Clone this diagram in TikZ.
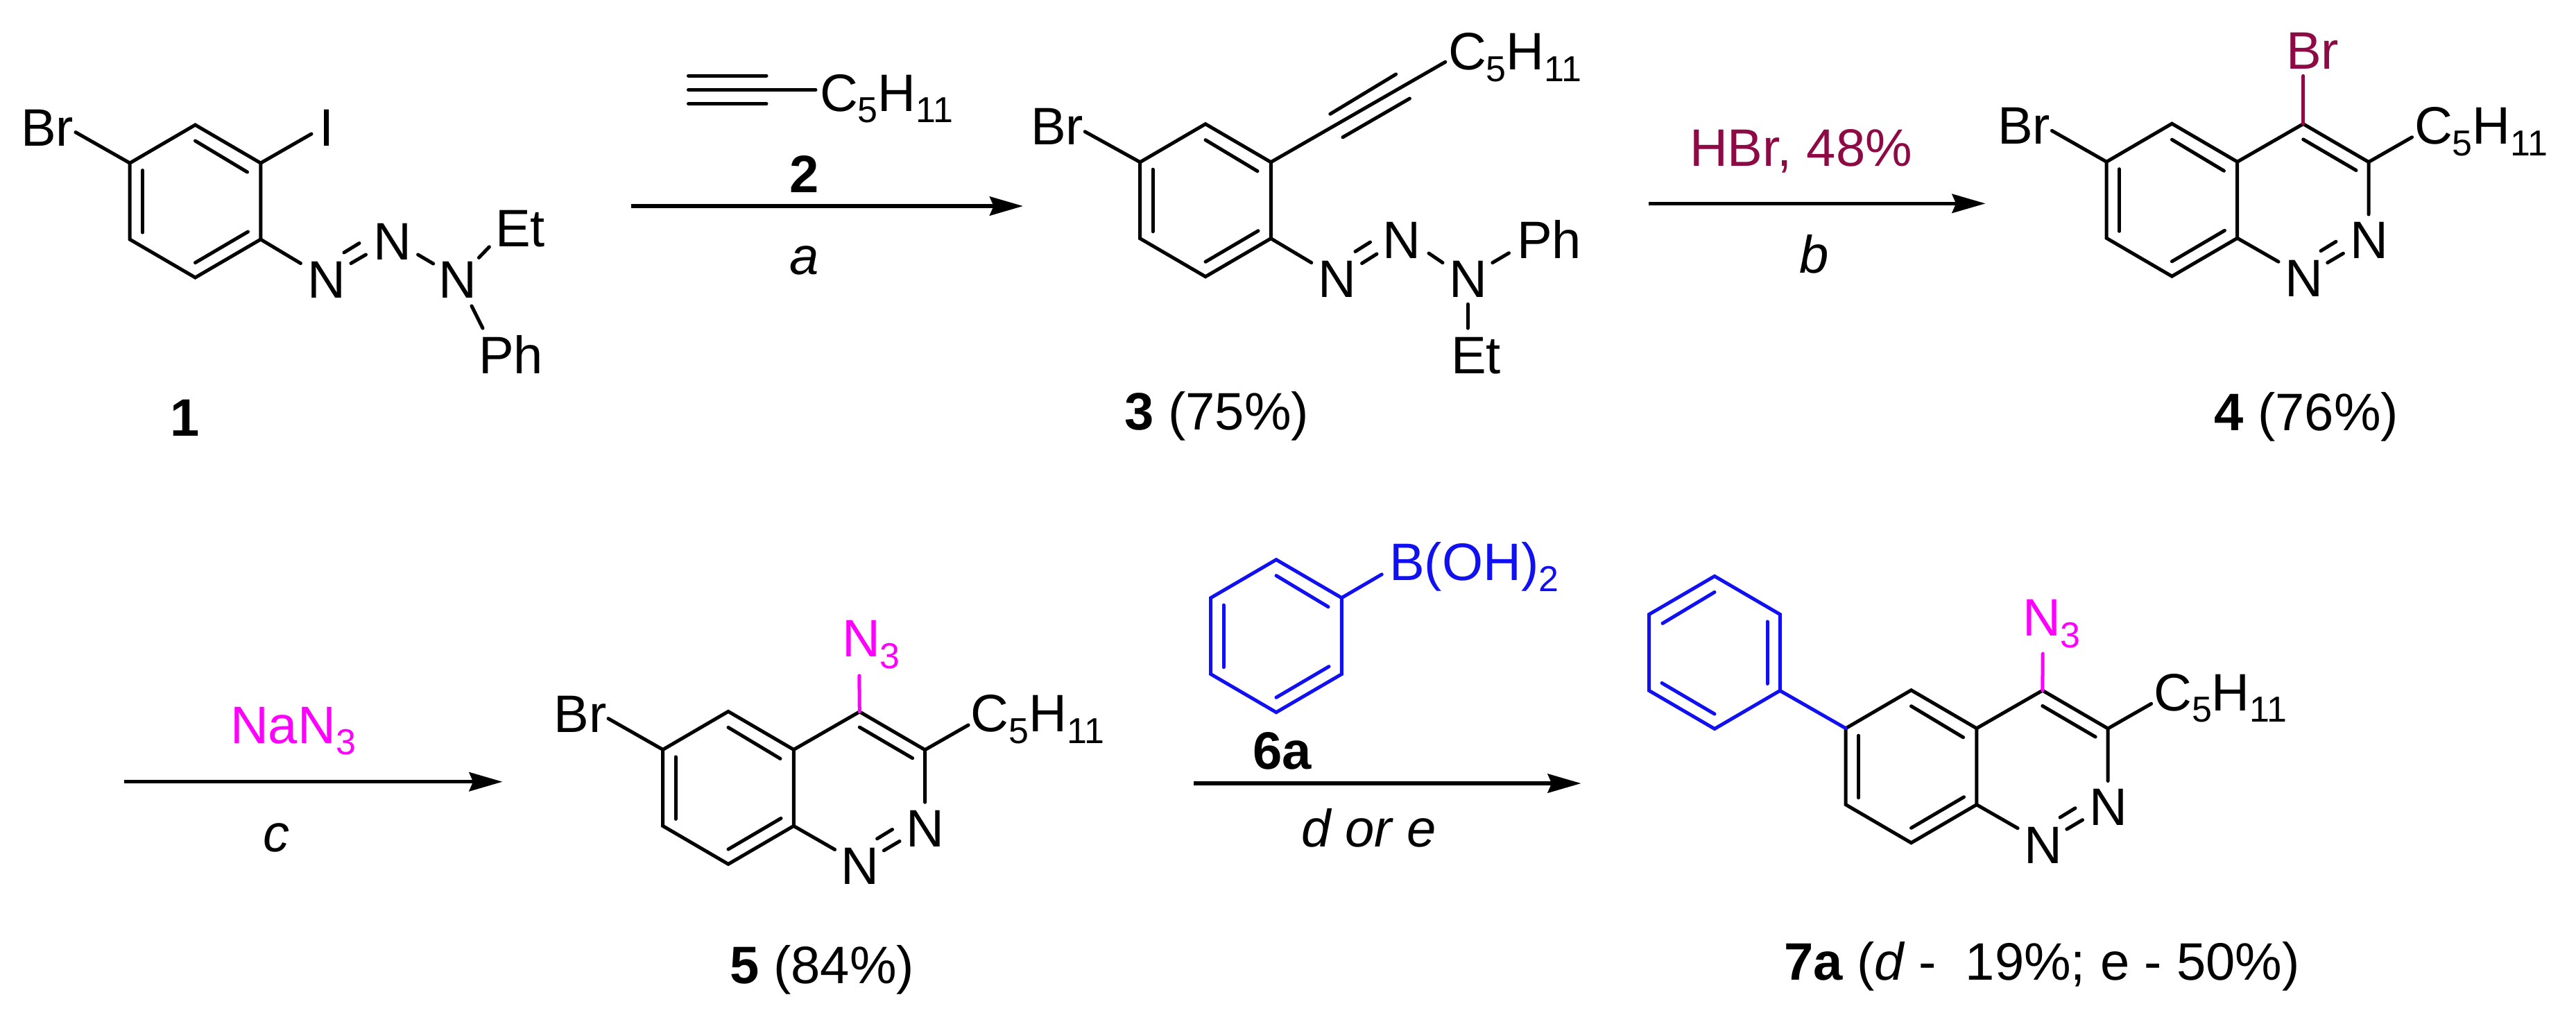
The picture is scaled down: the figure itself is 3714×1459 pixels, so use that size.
\documentclass[tikz,border=0pt]{standalone}
\usepackage{fontspec}
\setmainfont{Liberation Sans}
\usetikzlibrary{arrows.meta}
\definecolor{crim}{HTML}{8E0A45}
\definecolor{mag}{HTML}{FF00FF}
\definecolor{blu}{HTML}{1010F0}
\newcommand{\sbs}[1]{\raisebox{-4.2pt}{\fontsize{13}{13}\selectfont #1}}
\newcommand{\chain}{C\sbs{5}H\sbs{11}}
\tikzset{
  x=0.25pt,y=-0.25pt,
  bond/.style={line width=1.25pt,line cap=round,line join=miter},
  rxn/.style={line width=1.35pt,-{Stealth[length=12pt,width=6.8pt,inset=1.4pt]}},
  lab/.style={inner sep=0pt,outer sep=0pt,font=\fontsize{19}{19}\selectfont,anchor=base west},
  atom/.style={lab,anchor=base},
}
% name, centre x, centre y, xscale (1 or -1), colour
\newcommand{\ringat}[5]{%
  \begin{scope}[shift={(#2,#3)},xscale=#4]
    \coordinate (#1t) at (0,-110);
    \coordinate (#1ur) at (94.3,-55);
    \coordinate (#1lr) at (94.3,55);
    \coordinate (#1b) at (0,110);
    \coordinate (#1ll) at (-94.3,55);
    \coordinate (#1ul) at (-94.3,-55);
    \coordinate (#1ia) at (0,-87);
    \coordinate (#1ib) at (75,-42);
    \coordinate (#1ic) at (-76,-44.5);
    \coordinate (#1id) at (-76,45);
    \coordinate (#1ie) at (76,44);
    \coordinate (#1if) at (0,88.6);
    \draw[bond,#5] (#1t)--(#1ur)--(#1lr)--(#1b)--(#1ll)--(#1ul)--cycle;
    \draw[bond,#5] (#1ia)--(#1ib);
    \draw[bond,#5] (#1ic)--(#1id);
    \draw[bond,#5] (#1ie)--(#1if);
  \end{scope}}
% cinnoline drawn at the coordinates of compound 4, shifted
\newcommand{\cinno}[3]{%
  \ringat{#1}{3131.4+#2}{288.2+#3}{1}{black}
  \begin{scope}[shift={(#2,#3)}]
    \coordinate (#1Cf) at (3320.7,178.6);
    \coordinate (#1Cc) at (3415,233.5);
    \coordinate (#1Cn) at (3415,309);
    \coordinate (#1Ni) at (3320.7,200.9);
    \coordinate (#1Nj) at (3397,245.5);
    \coordinate (#1Na) at (3285,377.2);
    \coordinate (#1Da) at (3355.7,378.6);
    \coordinate (#1Db) at (3378.4,365.2);
    \coordinate (#1Dc) at (3346,361.6);
    \coordinate (#1Dd) at (3367.9,348.2);
    \coordinate (#1Ch) at (3477.5,197.8);
    \node[atom] (#1NL) at (3321.5,427.7) {N};
    \node[atom] (#1NR) at (3415.8,372.8) {N};
    \node[lab] (#1chain) at (3481,207.6) {\chain};
    \draw[bond] (#1ur)--(#1Cf)--(#1Cc)--(#1Cn);
    \draw[bond] (#1Ni)--(#1Nj);
    \draw[bond] (#1lr)--(#1Na);
    \draw[bond] (#1Da)--(#1Db);
    \draw[bond] (#1Dc)--(#1Dd);
    \draw[bond] (#1Cc)--(#1Ch);
  \end{scope}}
\begin{document}
\begin{tikzpicture}
\useasboundingbox (0,0) rectangle (3714,1459);

% ---------- compound 1
\ringat{a}{281.5}{290}{1}{black}
\coordinate (aBr) at (109,190.6);
\coordinate (aI) at (449,193);
\coordinate (aN) at (433.4,379.5);
\coordinate (aDa) at (506,379.5);
\coordinate (aDb) at (527.5,367);
\coordinate (aDc) at (496,364);
\coordinate (aDd) at (518,350.5);
\coordinate (aEa) at (602.6,367);
\coordinate (aEb) at (624.7,380);
\coordinate (aFa) at (690.4,371.4);
\coordinate (aFb) at (705.4,355.8);
\coordinate (aGa) at (680,441);
\coordinate (aGb) at (696,473);
\node[lab] (aBrT) at (30,210) {Br};
\node[atom] (aIT) at (471,210) {I};
\node[atom] (aN1) at (471,429.5) {N};
\node[atom] (aN2) at (565.7,374) {N};
\node[atom] (aN3) at (659.5,429.5) {N};
\node[lab] (aEt) at (714,355) {Et};
\node[lab] (aPh) at (690,538) {Ph};
\node[lab,anchor=base] (l1) at (267,628.6) {\bfseries 1};
\draw[bond] (aul)--(aBr);
\draw[bond] (aur)--(aI);
\draw[bond] (alr)--(aN);
\draw[bond] (aDa)--(aDb);
\draw[bond] (aDc)--(aDd);
\draw[bond] (aEa)--(aEb);
\draw[bond] (aFa)--(aFb);
\draw[bond] (aGa)--(aGb);

% ---------- alkyne 2 and arrow a
\coordinate (ta) at (992.5,109);
\coordinate (tb) at (1105,109);
\coordinate (tc) at (992.5,129.5);
\coordinate (td) at (1176,129.5);
\coordinate (te) at (992.5,149.5);
\coordinate (tf) at (1105,149.5);
\node[lab] (tchain) at (1182,160) {\chain};
\draw[bond] (ta)--(tb);
\draw[bond] (tc)--(td);
\draw[bond] (te)--(tf);
\node[lab,anchor=base] (l2) at (1160,277.7) {\bfseries 2};
\node[lab,anchor=base] (la) at (1160,395) {\itshape a};
\coordinate (ar1s) at (909.5,297);
\coordinate (ar1e) at (1475,297);
\draw[rxn] (ar1s)--(ar1e);

% ---------- compound 3
\ringat{c}{1738}{288.7}{1}{black}
\coordinate (cBr) at (1564.2,189.7);
\coordinate (cY) at (2083.8,89.3);
\coordinate (cYa) at (1917.8,164.3);
\coordinate (cYb) at (2012.6,107);
\coordinate (cYc) at (1935.9,197.8);
\coordinate (cYd) at (2032.4,142);
\coordinate (cN) at (1890.8,378.6);
\coordinate (cDa) at (1963.6,379.5);
\coordinate (cDb) at (1985,366);
\coordinate (cDc) at (1954,362.5);
\coordinate (cDd) at (1975.5,349);
\coordinate (cEa) at (2060,365);
\coordinate (cEb) at (2080,378.6);
\coordinate (cFa) at (2151.8,378.6);
\coordinate (cFb) at (2175.5,364.7);
\coordinate (cGa) at (2116,438.4);
\coordinate (cGb) at (2116,473);
\node[lab] (cBrT) at (1486,208.5) {Br};
\node[lab] (cchain) at (2088,100.4) {\chain};
\node[atom] (cN1) at (1928,428.6) {N};
\node[atom] (cN2) at (2021.3,372.8) {N};
\node[atom] (cN3) at (2117,428.6) {N};
\node[lab] (cPh) at (2187,372.8) {Ph};
\node[lab] (cEt) at (2092,538) {Et};
\node[lab] (l3) at (1621,619.6) {{\bfseries 3} (75\%)};
\draw[bond] (cul)--(cBr);
\draw[bond] (cur)--(cY);
\draw[bond] (cYa)--(cYb);
\draw[bond] (cYc)--(cYd);
\draw[bond] (clr)--(cN);
\draw[bond] (cDa)--(cDb);
\draw[bond] (cDc)--(cDd);
\draw[bond] (cEa)--(cEb);
\draw[bond] (cFa)--(cFb);
\draw[bond] (cGa)--(cGb);

% ---------- arrow b
\coordinate (ar2s) at (2377,293.3);
\coordinate (ar2e) at (2862.5,293.3);
\draw[rxn] (ar2s)--(ar2e);
\node[lab,text=crim] (hbr) at (2436,239.7) {HBr, 48\%};
\node[lab,anchor=base] (lb) at (2616,393.8) {\itshape b};

% ---------- compound 4
\cinno{d}{0}{0}
\coordinate (dBr) at (2958.4,188.4);
\coordinate (dX) at (3320.7,109.4);
\node[lab] (dBrT) at (2880,207.6) {Br};
\node[lab,text=crim] (dBrU) at (3296,99) {Br};
\node[lab] (l4) at (3192,620.5) {{\bfseries 4} (76\%)};
\draw[bond] (dul)--(dBr);
\draw[bond,crim] (dCf)--(dX);

% ---------- arrow c
\coordinate (ar3s) at (178.6,1126.7);
\coordinate (ar3e) at (724.5,1126.7);
\draw[rxn] (ar3s)--(ar3e);
\node[lab,text=mag] (nan) at (332,1071) {NaN\sbs{3}};
\node[lab,anchor=base] (lc) at (398,1227) {\itshape c};

% ---------- compound 5
\cinno{e}{-2081.4}{847.2}
\coordinate (eBr) at (877,1035.6);
\coordinate (eX) at (1238.8,973.8);
\node[lab] (eBrT) at (798.6,1055) {Br};
\node[lab,text=mag] (eN3) at (1214,946.7) {N\sbs{3}};
\node[lab] (l5) at (1052,1417) {{\bfseries 5} (84\%)};
\draw[bond] (eul)--(eBr);
\draw[bond,mag] (eCf)--(eX);

% ---------- boronic acid 6a and arrow d or e
\ringat{b}{1840}{916.6}{1}{blu}
\coordinate (bB) at (1992.2,827.8);
\node[lab,text=blu] (bT) at (2003,836) {B(OH)\sbs{2}};
\draw[bond,blu] (bur)--(bB);
\node[lab] (l6) at (1806,1108.6) {\bfseries 6a};
\coordinate (ar4s) at (1721,1129);
\coordinate (ar4e) at (2279.5,1129);
\draw[rxn] (ar4s)--(ar4e);
\node[lab] (ld) at (1876,1220) {\itshape d or e};

% ---------- compound 7a
\cinno{g}{-375.9}{816.5}
\ringat{p}{2472}{940.4}{-1}{blu}
\coordinate (gX) at (2945.2,942.2);
\node[lab,text=mag] (gN3) at (2916,916.4) {N\sbs{3}};
\node[lab] (l7) at (2572,1412.4) {{\bfseries 7a} ({\itshape d} -\ \ 19\%; e - 50\%)};
\draw[bond,mag] (gCf)--(gX);
\draw[bond,blu] (pll)--(gul);
\end{tikzpicture}
\end{document}
